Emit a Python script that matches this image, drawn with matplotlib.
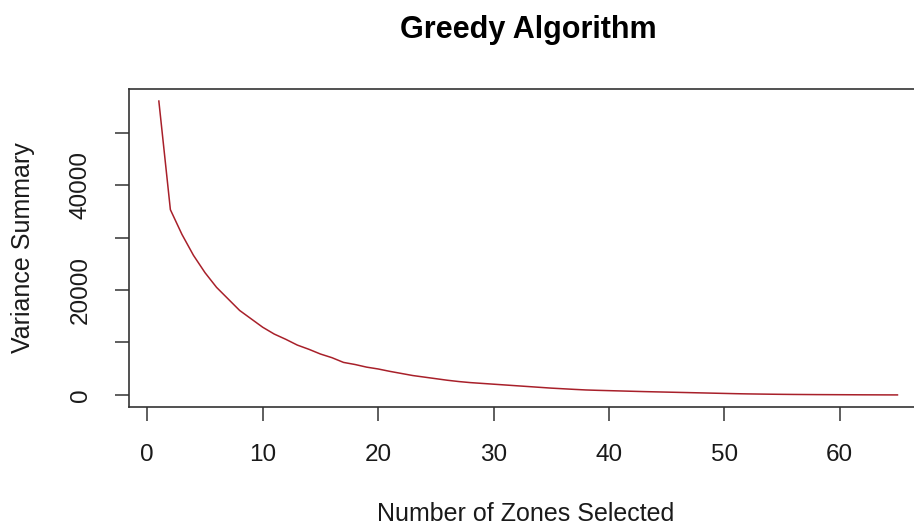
import matplotlib
matplotlib.use("Agg")
import matplotlib.pyplot as plt
import numpy as np

plt.rcParams['font.family'] = ['Liberation Sans', 'DejaVu Sans']

# number of zones selected vs variance summary
zones = list(range(1, 66))
variance = [56000, 35300, 30600, 26600, 23300, 20500, 18300, 16100, 14500, 12900,
            11600, 10600, 9500, 8700, 7800, 7100, 6200, 5800, 5300, 4950,
            4500, 4100, 3700, 3400, 3100, 2800, 2550, 2350, 2200, 2050,
            1900, 1750, 1600, 1450, 1300, 1180, 1060, 950, 880, 820,
            760, 700, 640, 590, 540, 490, 440, 390, 340, 290,
            240, 200, 170, 140, 115, 95, 80, 65, 55, 45,
            35, 25, 18, 10, 5]

x_ticks = [0, 10, 20, 30, 40, 50, 60]
y_ticks = [0, 10000, 20000, 30000, 40000, 50000]
y_tick_labels = ['0', '', '20000', '', '40000', '']

W, H = 914, 527
fig = plt.figure(figsize=(W / 100, H / 100), dpi=100)
# plot box in pixels: left 129, top 89, right 927 (cut off), bottom 407
ax = fig.add_axes([129.3 / W, (H - 406.7) / H, (927 - 129.3) / W, (406.7 - 89.3) / H])

ax.plot(zones, variance, color='#a8202a', lw=1.1)

# R style 4% padding
xmin, xmax = min(zones), max(zones)
ymin, ymax = min(variance), max(variance)
ax.set_xlim(xmin - 0.04 * (xmax - xmin), xmax + 0.04 * (xmax - xmin))
ax.set_ylim(-0.04 * ymax, ymax * 1.04)

txt = '#1a1a1a'
ax.set_xticks(x_ticks)
ax.set_xticklabels([str(v) for v in x_ticks])
ax.set_yticks(y_ticks)
ax.set_yticklabels(y_tick_labels, rotation=90, va='center')
ax.tick_params(axis='both', length=10, width=1.1, color='#333333', labelsize=17.5,
               labelcolor=txt)
ax.tick_params(axis='x', pad=17)
ax.tick_params(axis='y', pad=17)

for s in ax.spines.values():
    s.set_color('#333333')
    s.set_linewidth(1.2)

ax.set_xlabel('Number of Zones Selected', fontsize=18, color=txt)
ax.set_ylabel('Variance Summary', fontsize=18, color=txt)
ax.xaxis.set_label_coords(0.497, -0.338)
ax.yaxis.set_label_coords(-0.1333, 0.5)
ax.xaxis.label.set_va('center')
ax.yaxis.label.set_va('center')

ax.set_title('Greedy Algorithm', fontsize=22, fontweight='bold', color='black', pad=37)

fig.savefig('out.png', dpi=100)
